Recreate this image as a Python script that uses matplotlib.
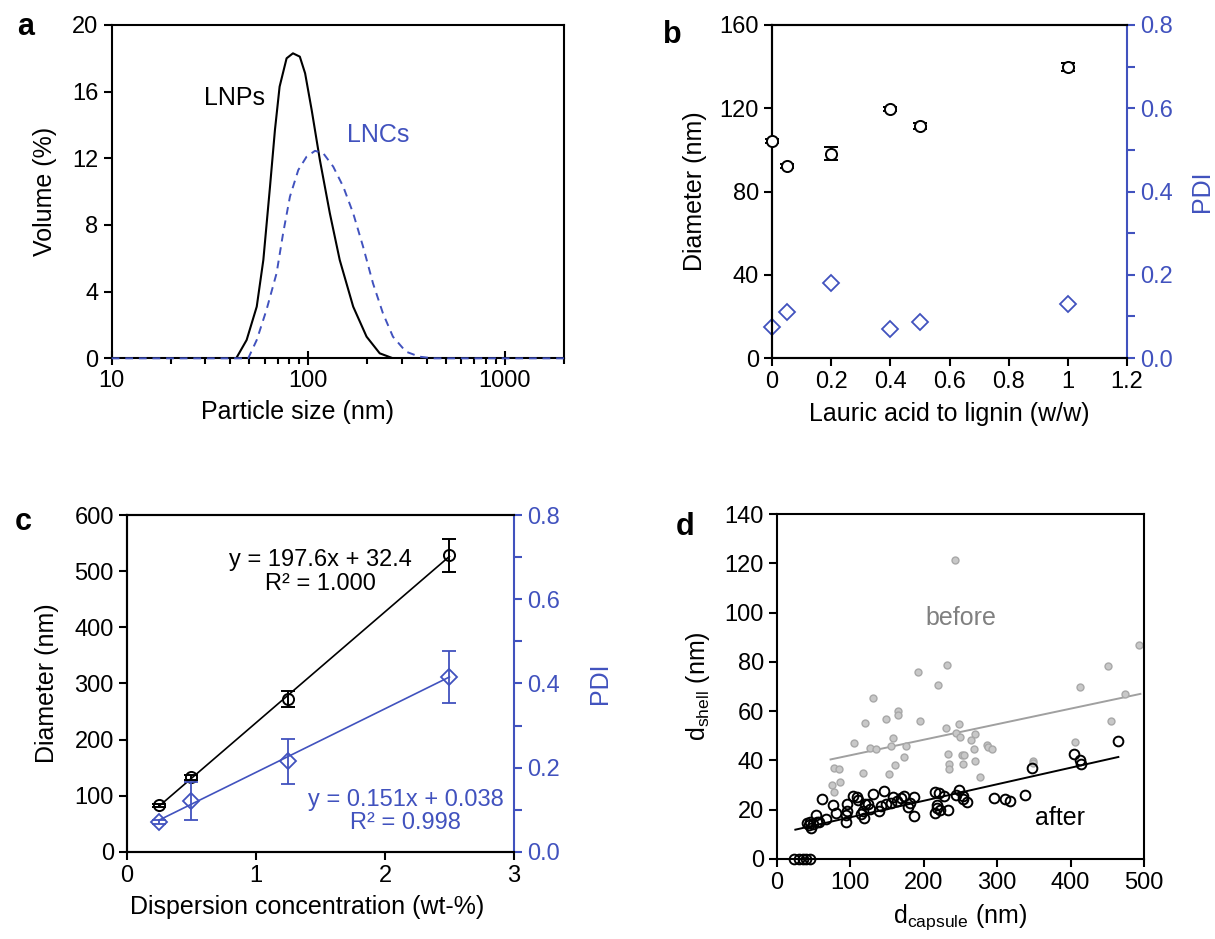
import numpy as np
import matplotlib
matplotlib.use('Agg')
import matplotlib.pyplot as plt
from matplotlib.ticker import MultipleLocator, FuncFormatter, LogLocator, NullFormatter

plt.rcParams['font.family'] = ['Liberation Sans', 'DejaVu Sans']
plt.rcParams['font.size'] = 17
plt.rcParams['mathtext.fontset'] = 'custom'
plt.rcParams['mathtext.rm'] = 'Liberation Sans'
plt.rcParams['axes.linewidth'] = 1.5

BLUE = '#4152BE'
GRAY_FACE = '#C8C8C8'
GRAY_EDGE = '#A8A8A8'
TICK = 17
LAB = 18

# ---- panel a: size distributions ----
lnp_size = [10, 43, 48.6, 54.7, 59.1, 63.9, 67.7, 71.5, 77.6, 83.6, 90.6, 96.4, 104.1,
            114.6, 128.8, 144.6, 169.3, 198, 231, 270, 2000]
lnp_vol = [0, 0, 1.1, 3.1, 5.9, 10.3, 13.7, 16.3, 18.0, 18.3, 18.1, 17.1, 14.9,
           11.9, 8.7, 5.9, 3.1, 1.3, 0.3, 0, 0]
lnc_size = [10, 49.5, 54.7, 61.3, 69.0, 74.5, 80.7, 89.0, 98.1, 108.3, 119.3, 134.0,
            150.7, 169.3, 190.1, 213.5, 239.9, 269.6, 314, 367.5, 430, 2000]
lnc_vol = [0, 0, 1.1, 2.9, 5.1, 7.5, 9.7, 11.3, 12.1, 12.45, 12.3, 11.5,
           10.3, 8.7, 6.7, 4.5, 2.7, 1.3, 0.4, 0.1, 0, 0]

# ---- panel b: lauric acid ratio ----
ratio = [0, 0.05, 0.2, 0.4, 0.5, 1.0]
diam_b = [104.3, 92.3, 98.2, 119.5, 111.4, 139.8]
diam_b_err = [1.0, 1.0, 3.0, 1.0, 1.5, 2.0]
pdi_b = [0.075, 0.110, 0.181, 0.070, 0.087, 0.131]

# ---- panel c: dispersion concentration ----
conc = [0.25, 0.5, 1.25, 2.5]
diam_c = [83, 133, 272, 528]
diam_c_err = [3, 4, 14, 30]
pdi_c = [0.071, 0.120, 0.215, 0.415]
pdi_c_err = [0.004, 0.045, 0.053, 0.062]
fit_diam = (197.6, 32.4)
fit_pdi = (0.151, 0.038)

# ---- panel d: shell vs capsule ----
before_x = [242.7, 493.6, 451, 413.3, 473.7, 454.6, 406.5, 349.4, 348.5, 231.4, 218.7,
            192.4, 195.1, 130.2, 120.2, 148.8, 164.2, 164.2, 105.3, 157.9, 155.2, 127.0,
            135.2, 175.1, 172.9, 161.1, 152.4, 117.5, 78.0, 84.4, 85.3, 74.4, 77.1,
            230.5, 248.2, 243.6, 249.1, 270.4, 263.6, 268.6, 285.4, 288.1, 293.1,
            232.3, 251.8, 255.4, 233.7, 234.1, 253.2, 270.4, 276.8]
before_y = [121.2, 86.7, 78.3, 69.7, 67.1, 56.0, 47.5, 39.9, 39.0, 78.6, 70.6,
            75.9, 56.1, 65.3, 55.1, 56.8, 59.9, 58.4, 47.1, 49.0, 45.7, 44.9,
            44.6, 45.9, 41.5, 38.0, 34.6, 34.8, 37.1, 36.4, 31.4, 29.9, 27.2,
            53.3, 54.6, 51.1, 49.5, 50.6, 48.2, 44.5, 46.1, 45.6, 44.5,
            42.5, 42.1, 42.1, 38.7, 36.7, 38.6, 39.8, 33.1]
after_x = [23.6, 29.5, 34.9, 39.9, 44.5, 464.6, 405.2, 413.4, 414.7, 347.6, 338.1,
           310.3, 317.2, 295.0, 247.3, 244.1, 252.7, 253.2, 258.6, 214.6, 220.1,
           226.9, 217.8, 217.8, 214.6, 222.3, 232.3, 187.0, 186.1, 180.6, 177.9,
           172.9, 168.8, 157.9, 163.3, 155.2, 145.2, 148.4, 141.6, 138.4, 130.7,
           127.0, 123.4, 120.2, 117.0, 114.3, 117.9, 108.9, 103.0, 110.7, 95.3,
           95.3, 94.4, 93.9, 76.2, 79.9, 60.8, 66.7, 52.6, 54.5, 45.4, 40.8,
           46.3, 49.0, 57.6, 43.1]
after_y = [0, 0, 0, 0, 0, 47.9, 42.5, 40.2, 38.7, 36.8, 26.1,
           24.5, 23.5, 24.8, 28.1, 25.8, 25.6, 24.3, 23.1, 27.2, 26.8,
           25.6, 21.8, 20.7, 18.7, 19.8, 19.8, 25.0, 17.3, 22.7, 21.0,
           25.4, 24.8, 25.0, 23.4, 22.7, 27.5, 22.5, 21.4, 19.3, 26.2,
           20.3, 22.5, 22.3, 19.6, 18.4, 16.6, 25.2, 25.7, 24.1, 22.3,
           19.3, 18.0, 15.0, 21.9, 18.7, 24.5, 16.2, 17.9, 15.0, 14.9, 14.6,
           12.6, 14.3, 14.9, 13.7]
before_fit_x = [73, 495]
before_fit_y = [40.4, 67.0]
after_fit_x = [25, 465]
after_fit_y = [11.9, 41.4]

fig = plt.figure(figsize=(12.15, 9.39), dpi=100)
gfmt = FuncFormatter(lambda v, p: '{:g}'.format(v))
f1 = FuncFormatter(lambda v, p: '{:.1f}'.format(v))


def style(ax):
    ax.tick_params(which='both', direction='out', width=1.5, length=6,
                   top=False, right=False, labelsize=TICK)


def right_axis(ax2):
    ax2.yaxis.set_major_locator(MultipleLocator(0.2))
    ax2.yaxis.set_minor_locator(MultipleLocator(0.1))
    ax2.yaxis.set_major_formatter(f1)
    ax2.tick_params(which='both', direction='out', width=1.5, length=6,
                    colors=BLUE, labelsize=TICK)
    ax2.spines['right'].set_color(BLUE)


# a
ax = fig.add_axes([0.0919, 0.6184, 0.3723, 0.355])
ax.plot(lnp_size, lnp_vol, color='black', lw=1.5)
ax.plot(lnc_size, lnc_vol, color=BLUE, lw=1.4, ls=(0, (4, 3)), zorder=3, clip_on=False)
ax.set_xscale('log')
ax.set_xlim(10, 2000)
ax.set_ylim(0, 20)
ax.yaxis.set_major_locator(MultipleLocator(4))
ax.xaxis.set_major_formatter(gfmt)
ax.xaxis.set_minor_locator(LogLocator(subs=np.arange(2, 10)))
ax.xaxis.set_minor_formatter(NullFormatter())
style(ax)
ax.tick_params(axis='x', which='major', direction='inout', length=10)
ax.tick_params(axis='x', which='minor', length=4)
ax.set_xlabel('Particle size (nm)', fontsize=LAB, labelpad=6)
ax.xaxis.label.set_x(0.41)
ax.set_ylabel('Volume (%)', fontsize=LAB, labelpad=11)
ax.text(60, 15.6, 'LNPs', ha='right', va='center', fontsize=LAB)
ax.text(228, 13.4, 'LNCs', ha='center', va='center', fontsize=LAB, color=BLUE)

# b
ax = fig.add_axes([0.6354, 0.6187, 0.2922, 0.3547])
ax2 = ax.twinx()
ax.errorbar(ratio, diam_b, yerr=diam_b_err, fmt='o', mfc='white', mec='black', ms=8,
            mew=1.4, ecolor='black', elinewidth=1.4, capsize=5, capthick=1.4,
            clip_on=False, zorder=4)
ax2.plot(ratio, pdi_b, 'D', mfc='none', mec=BLUE, ms=8, mew=1.3, clip_on=False)
ax.set_xlim(0, 1.2)
ax.set_ylim(0, 160)
ax2.set_ylim(0, 0.8)
ax.xaxis.set_major_locator(MultipleLocator(0.2))
ax.xaxis.set_major_formatter(gfmt)
ax.yaxis.set_major_locator(MultipleLocator(40))
style(ax)
right_axis(ax2)
ax.spines['right'].set_visible(False)
ax.set_xlabel('Lauric acid to lignin (w/w)', fontsize=LAB, labelpad=6)
ax.set_ylabel('Diameter (nm)', fontsize=LAB, labelpad=9)
ax2.set_ylabel('PDI', color=BLUE, fontsize=LAB, labelpad=12)
ax.set_zorder(ax2.get_zorder() + 1)
ax.patch.set_visible(False)

# c
ax = fig.add_axes([0.1045, 0.0927, 0.3185, 0.3588])
ax2 = ax.twinx()
xs = np.array([conc[0], conc[-1]])
ax.plot(xs, fit_diam[0] * xs + fit_diam[1], color='black', lw=1.2)
ax.errorbar(conc, diam_c, yerr=diam_c_err, fmt='o', mfc='none', mec='black', ms=8,
            mew=1.4, ecolor='black', elinewidth=1.4, capsize=5, capthick=1.4)
ax2.plot(xs, fit_pdi[0] * xs + fit_pdi[1], color=BLUE, lw=1.2)
ax2.errorbar(conc, pdi_c, yerr=pdi_c_err, fmt='D', mfc='none', mec=BLUE, ms=8,
             mew=1.3, ecolor=BLUE, elinewidth=1.3, capsize=5, capthick=1.3)
ax.set_xlim(0, 3)
ax.set_ylim(0, 600)
ax2.set_ylim(0, 0.8)
ax.xaxis.set_major_locator(MultipleLocator(1))
ax.yaxis.set_major_locator(MultipleLocator(100))
style(ax)
right_axis(ax2)
ax.spines['right'].set_visible(False)
ax.set_xlabel('Dispersion concentration (wt-%)', fontsize=LAB, labelpad=6)
ax.xaxis.label.set_x(0.465)
ax.set_ylabel('Diameter (nm)', fontsize=LAB, labelpad=11)
ax2.set_ylabel('PDI', color=BLUE, fontsize=LAB, labelpad=20)
ax.text(0.50, 0.83, 'y = 197.6x + 32.4\nR² = 1.000', transform=ax.transAxes,
        ha='center', va='center', fontsize=TICK, linespacing=1.1)
ax.text(0.72, 0.12, 'y = 0.151x + 0.038\nR² = 0.998', transform=ax.transAxes,
        ha='center', va='center', fontsize=TICK, color=BLUE, linespacing=1.1)

# d
ax = fig.add_axes([0.6395, 0.0852, 0.3021, 0.3674])
ax.plot(before_fit_x, before_fit_y, color='#A0A0A0', lw=1.4)
ax.plot(after_fit_x, after_fit_y, color='black', lw=1.4)
ax.plot(before_x, before_y, 'o', mfc=GRAY_FACE, mec=GRAY_EDGE, ms=5, mew=1.0)
ax.plot(after_x, after_y, 'o', mfc='none', mec='black', ms=7, mew=1.4, clip_on=False)
ax.set_xlim(0, 500)
ax.set_ylim(0, 140)
ax.xaxis.set_major_locator(MultipleLocator(100))
ax.yaxis.set_major_locator(MultipleLocator(20))
style(ax)
ax.set_xlabel('d$_\\mathregular{capsule}$ (nm)', fontsize=LAB, labelpad=6)
ax.set_ylabel('d$_\\mathregular{shell}$ (nm)', fontsize=LAB, labelpad=9)
ax.text(250, 98, 'before', ha='center', va='center', fontsize=LAB, color='#808080')
ax.text(386, 16.6, 'after', ha='center', va='center', fontsize=LAB, color='black')

# panel letters
for lab, x, y in [('a', 0.014, 0.971), ('b', 0.546, 0.963), ('c', 0.012, 0.444), ('d', 0.556, 0.439)]:
    fig.text(x, y, lab, fontsize=22, fontweight='bold', va='center')

fig.savefig('out.png', dpi=100)
